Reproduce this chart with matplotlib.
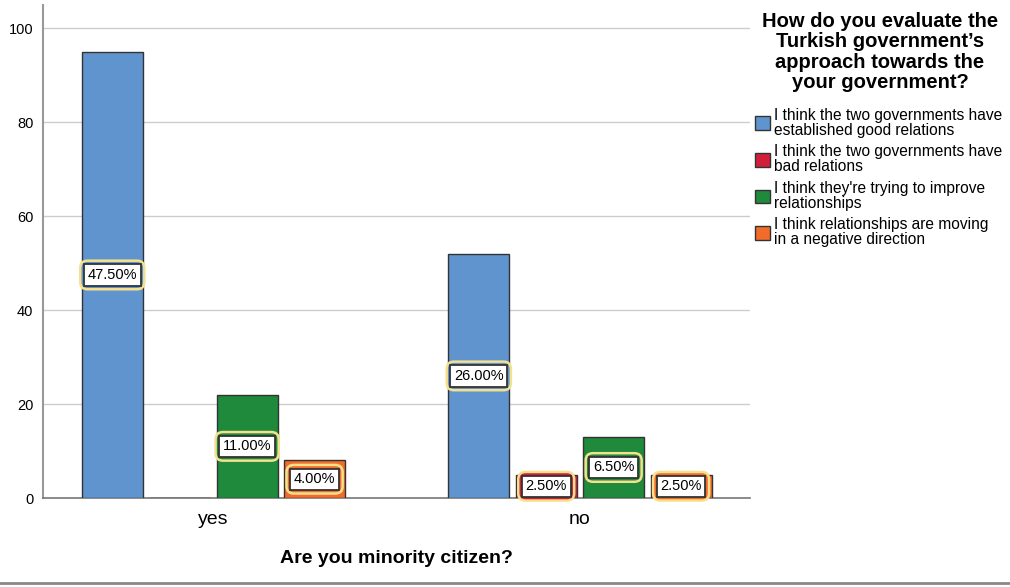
import numpy as np
import matplotlib
matplotlib.use("Agg")
import matplotlib.pyplot as plt
from matplotlib.lines import Line2D

plt.rcParams['font.family'] = ['Liberation Sans', 'DejaVu Sans']

categories = ['yes', 'no']
series = ["I think the two governments have\nestablished good relations",
          "I think the two governments have\nbad relations",
          "I think they're trying to improve\nrelationships",
          "I think relationships are moving\nin a negative direction"]
counts = [[95, 52], [0, 5], [22, 13], [8, 5]]
pct_labels = [['47.50%', '26.00%'], [None, '2.50%'], ['11.00%', '6.50%'], ['4.00%', '2.50%']]
colors = ['#6094cf', '#d11f3a', '#1f8a3b', '#f26b2b']

fig = plt.figure(figsize=(10.1, 5.87), dpi=100)
ax = fig.add_axes([43/1010, 89/587, 707/1010, 493/587])

x = np.arange(len(categories))
width = 0.166
step = 0.184
offsets = (np.arange(4) - 1.5) * step

for i in range(4):
    ax.bar(x + offsets[i], counts[i], width=width, color=colors[i],
           edgecolor='#333333', linewidth=1, label=series[i], zorder=3)
    for j in range(len(categories)):
        if pct_labels[i][j] is None:
            continue
        yv = counts[i][j] / 2
        ax.text(x[j] + offsets[i], yv, pct_labels[i][j], ha='center', va='center',
                fontsize=10.5, color='none', zorder=4,
                bbox=dict(boxstyle='round,pad=0.5', facecolor=colors[i],
                          edgecolor='#f5e08c', linewidth=1.8))
        ax.text(x[j] + offsets[i], yv, pct_labels[i][j], ha='center', va='center',
                fontsize=10.5, color='black', zorder=5,
                bbox=dict(boxstyle='square,pad=0.25', facecolor='white',
                          edgecolor='#333333', linewidth=1.3))

ax.set_xlim(-0.465, 1.464)
ax.set_ylim(0, 105)
ax.set_yticks(range(0, 101, 20))
ax.set_xticks(x)
ax.set_xticklabels(categories, fontsize=14)
ax.tick_params(axis='y', labelsize=10.5, length=0, pad=7)
ax.tick_params(axis='x', length=0, pad=9)
ax.yaxis.grid(True, color='#cccccc', linewidth=1, zorder=0)
ax.set_axisbelow(True)
for s in ['top', 'right']:
    ax.spines[s].set_visible(False)
ax.spines['left'].set_color('#999999')
ax.spines['left'].set_linewidth(1.5)
ax.spines['bottom'].set_color('#777777')
ax.spines['bottom'].set_linewidth(1.2)
ax.set_xlabel('Are you minority citizen?', fontsize=14, fontweight='bold', labelpad=16)

fig.text(880/1010, 1 - 12/587,
         "How do you evaluate the\nTurkish government\u2019s\napproach towards the\nyour government?",
         ha='center', va='top', fontsize=14.5, fontweight='bold', linespacing=1.09)

leg = fig.legend(loc='upper left', bbox_to_anchor=(747/1010, 1 - 100/587),
                 frameon=False, fontsize=11.2, handlelength=1.0, handleheight=1.0,
                 handletextpad=0.25, labelspacing=0.42, borderpad=0)
for t in leg.get_texts():
    t.set_linespacing(1.0)

fig.add_artist(Line2D([0, 1], [4/587, 4/587], color='#888888', linewidth=2,
                      transform=fig.transFigure))

fig.savefig('out.png', dpi=100)
